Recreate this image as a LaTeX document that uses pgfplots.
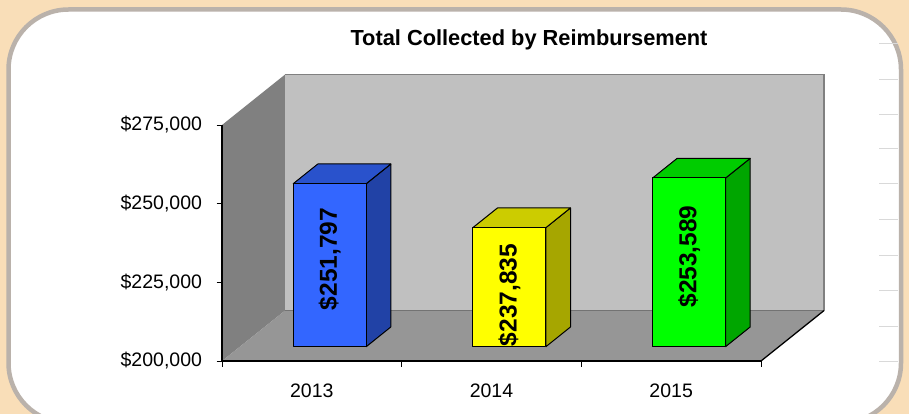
\documentclass[border=0pt]{standalone}
\usepackage{fontspec}
\setmainfont{Liberation Sans}
\usepackage{pgfplots}
\pgfplotsset{compat=1.18}
\definecolor{peach}{HTML}{F9DEB8}
\definecolor{framec}{HTML}{BAB2AB}
\definecolor{wallside}{HTML}{808080}
\definecolor{wallback}{HTML}{C0C0C0}
\definecolor{floorc}{HTML}{969696}
\definecolor{blueF}{HTML}{3366FF}
\definecolor{blueT}{HTML}{2952CC}
\definecolor{blueS}{HTML}{2142A6}
\definecolor{yelF}{HTML}{FFFF00}
\definecolor{yelT}{HTML}{CCCC00}
\definecolor{yelS}{HTML}{A6A600}
\definecolor{grnF}{HTML}{00FF00}
\definecolor{grnT}{HTML}{00CC00}
\definecolor{grnS}{HTML}{00A600}
% data values
\def\vA{251797}
\def\vB{237835}
\def\vC{253589}
% 3D bar: #1 xl, #2 xr, #3 xl back, #4 xr back, #5 value, #6 front, #7 top, #8 side
\newcommand\threedbar[8]{%
  \edef\T{\the\numexpr#5+4571\relax}%
  \edef\Tb{\the\numexpr#5+10811\relax}%
  \edef\temp{%
    \noexpand\addplot[fill=#8,draw=black,line width=1bp,line join=round] coordinates {(#2,204571) (#4,210811) (#4,\Tb) (#2,\T)} -- cycle;%
    \noexpand\addplot[fill=#7,draw=black,line width=1bp,line join=round] coordinates {(#1,\T) (#2,\T) (#4,\Tb) (#3,\Tb)} -- cycle;%
    \noexpand\addplot[fill=#6,draw=black,line width=1bp,line join=round] coordinates {(#1,204571) (#2,204571) (#2,\T) (#1,\T)} -- cycle;%
  }\temp}
\begin{document}
\begin{tikzpicture}
\useasboundingbox (0,0) rectangle (909bp,414bp);
\fill[peach] (0,0) rectangle (909bp,414bp);
\begin{scope}
\clip (0,0) rectangle (909bp,414bp);
\draw[framec, line width=4.5bp, fill=white, rounded corners=60bp] (8.5bp,-9bp) rectangle (901bp,404.5bp);
\end{scope}
\foreach \py in {43.3,79.3,114.3,148.3,184,219.7,255.4,291,327,362}
  \draw[color=black!15, line width=1bp] (879bp,{(414-\py)*1bp}) -- (898bp,{(414-\py)*1bp});
\begin{axis}[
  at={(222bp,53bp)}, anchor=south west,
  scale only axis, width=539bp, height=236bp,
  xmin=-0.5, xmax=2.5, ymin=200000, ymax=275000,
  enlargelimits=false,
  clip=false, axis on top,
  axis lines=left, axis line style={-, line width=1.2bp, black},
  tick align=outside, major tick length=5.5bp,
  tick style={black, line width=1bp},
  xtick={-0.5,0.5,1.5,2.5}, xticklabels={2013,2014,2015}, x tick label as interval,
  ytick={200000,225000,250000,275000},
  yticklabels={{\$200,000},{\$225,000},{\$250,000},{\$275,000}},
  scaled y ticks=false,
  tick label style={font=\fontsize{19.5bp}{23bp}\selectfont},
  xticklabel style={yshift=-14bp},
  yticklabel style={xshift=-11bp},
  title={Total Collected by Reimbursement},
  title style={at={(axis description cs:0.5696,1.310)}, anchor=base, font=\fontsize{21.8bp}{26bp}\selectfont\bfseries},
]
% walls and floor
\addplot[fill=wallback, draw=none] coordinates {(-0.15,216000) (2.85,216000) (2.85,291000) (-0.15,291000)} -- cycle;
\addplot[fill=wallside, draw=none] coordinates {(-0.5,200000) (-0.15,216000) (-0.15,291000) (-0.5,275000)} -- cycle;
\addplot[fill=floorc, draw=none] coordinates {(-0.5,200000) (2.5,200000) (2.85,216000) (-0.15,216000)} -- cycle;
\addplot[draw=black!50, line width=1.5bp] coordinates {(-0.15,291000) (2.85,291000) (2.85,216000)};
\addplot[draw=black!55, line width=0.8bp] coordinates {(-0.15,216000) (2.85,216000)};
\addplot[draw=black, line width=1.3bp] coordinates {(2.5,200000) (2.85,216000)};
% bars
\threedbar{-0.1032}{0.3032}{0.0333}{0.4397}{\vA}{blueF}{blueT}{blueS}
\threedbar{0.8968}{1.3032}{1.0333}{1.4397}{\vB}{yelF}{yelT}{yelS}
\threedbar{1.8968}{2.3032}{2.0333}{2.4397}{\vC}{grnF}{grnT}{grnS}
% value labels
\node[rotate=90, font=\fontsize{24.5bp}{28bp}\selectfont\bfseries] at (axis cs:0.1,232415) {\$251,797};
\node[rotate=90, font=\fontsize{24.5bp}{28bp}\selectfont\bfseries] at (axis cs:1.1,220975) {\$237,835};
\node[rotate=90, font=\fontsize{24.5bp}{28bp}\selectfont\bfseries] at (axis cs:2.1,233210) {\$253,589};
\end{axis}
\end{tikzpicture}
\end{document}
